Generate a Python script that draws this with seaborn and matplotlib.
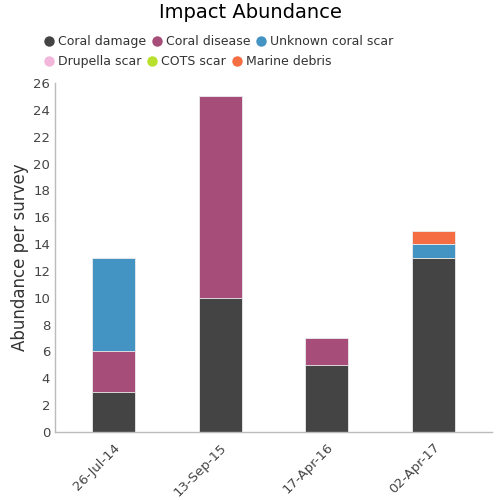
import numpy as np
import pandas as pd
import matplotlib
matplotlib.use("Agg")
import matplotlib.pyplot as plt
from matplotlib.lines import Line2D
import seaborn as sns

# survey dates and impact counts per category
surveys = ["26-Jul-14", "13-Sep-15", "17-Apr-16", "02-Apr-17"]
coral_damage = [3, 10, 5, 13]
coral_disease = [3, 15, 2, 0]
unknown_scar = [7, 0, 0, 1]
drupella_scar = [0, 0, 0, 0]
cots_scar = [0, 0, 0, 0]
marine_debris = [0, 0, 0, 1]

categories = ["Coral damage", "Coral disease", "Unknown coral scar",
              "Drupella scar", "COTS scar", "Marine debris"]
colors = ["#444444", "#a64d79", "#4393c3", "#f1b6da", "#b8e02c", "#f46d43"]


def main():
    sns.set_theme(style="white")
    plt.rcParams["font.family"] = ["DejaVu Sans"]

    series = [coral_damage, coral_disease, unknown_scar,
              drupella_scar, cots_scar, marine_debris]
    cum = np.cumsum(np.array(series), axis=0)

    fig = plt.figure(figsize=(5, 5), dpi=100)
    ax = fig.add_axes([0.11, 0.136, 0.874, 0.698])

    # draw stacked bars from the top layer down
    for i in reversed(range(len(categories))):
        df = pd.DataFrame({"survey": surveys, "value": cum[i]})
        sns.barplot(data=df, x="survey", y="value", color=colors[i],
                    saturation=1, width=0.4, ax=ax,
                    edgecolor="#eeeeee", linewidth=0.6)

    ax.set_ylim(0, 26)
    ax.set_yticks(range(0, 27, 2))
    ax.set_xlim(-0.55, 3.55)
    ax.set_xlabel("")
    ax.set_ylabel("Abundance per survey", fontsize=12, color="#333333",
                  labelpad=3, fontweight="medium")
    ax.tick_params(axis="both", labelsize=9.5, colors="#444444", length=0)
    ax.tick_params(axis="x", length=3, color="#bbbbbb")
    plt.setp(ax.get_xticklabels(), rotation=45, ha="right",
             rotation_mode="anchor")
    for s in ["top", "right"]:
        ax.spines[s].set_visible(False)
    for s in ["left", "bottom"]:
        ax.spines[s].set_color("#bbbbbb")
        ax.spines[s].set_linewidth(1)

    fig.suptitle("Impact Abundance", fontsize=14, y=0.993, color="black")

    handles = [Line2D([], [], marker="o", linestyle="", markersize=7.5,
                      markeredgewidth=0, color=c, label=l)
               for c, l in zip(colors, categories)]
    opts = dict(ncol=3, loc="upper left", frameon=False, fontsize=9,
                handletextpad=0.2, columnspacing=0.4, handlelength=1.0,
                labelcolor="#333333", borderaxespad=0)
    fig.legend(handles=handles[:3], bbox_to_anchor=(0.075, 0.94), **opts)
    fig.legend(handles=handles[3:], bbox_to_anchor=(0.075, 0.90), **opts)

    fig.savefig("out.png", dpi=100)


if __name__ == "__main__":
    main()
